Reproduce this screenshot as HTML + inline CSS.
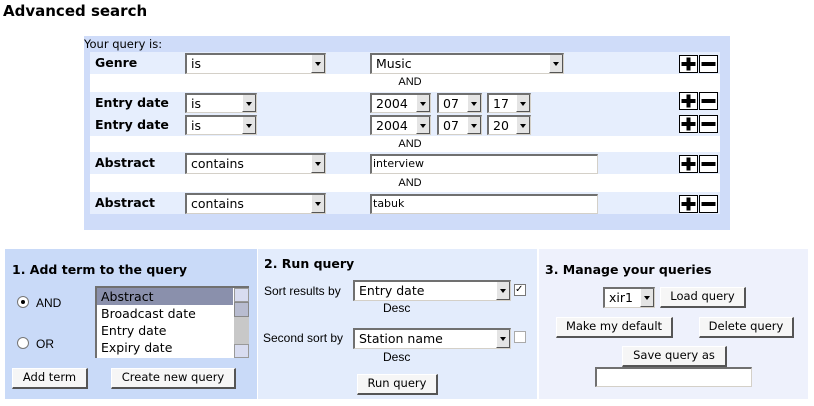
<!DOCTYPE html>
<html><head><style>
body{margin:0;width:814px;height:406px;background:#fff;position:relative;overflow:hidden;font-family:"DejaVu Sans","Liberation Sans",sans-serif;font-size:12px;color:#000}
.a{position:absolute}
.sel{position:absolute;background:#fff;border-top:2px solid #707070;border-left:2px solid #707070;border-right:1px solid #d4d0c8;border-bottom:1px solid #d4d0c8;box-sizing:border-box;font-size:12.5px;padding-left:4px;line-height:17px;white-space:nowrap;overflow:hidden}
.sel .ar{position:absolute;right:0;top:0;bottom:0;width:14px;background:#e4e4e4;border-left:1px solid #fff;border-right:1px solid #555;border-bottom:1px solid #555;box-sizing:border-box}
.sel .ar:after{content:"";position:absolute;left:3px;top:7px;border-left:3.5px solid transparent;border-right:3.5px solid transparent;border-top:4px solid #000}
.inp{position:absolute;background:#fff;border-top:2px solid #707070;border-left:2px solid #707070;border-right:1px solid #d4d0c8;border-bottom:1px solid #d4d0c8;box-sizing:border-box;font-size:11px;line-height:15px;padding-left:1px}
.btn{position:absolute;background:#f6f6f6;border-right:2px solid #555;border-bottom:2px solid #555;border-top:1px solid #fff;border-left:1px solid #fff;box-sizing:border-box;text-align:center;font-size:11.5px;line-height:17px}
.lab{position:absolute;font-weight:bold;font-size:12.5px}
.and{position:absolute;left:370px;width:80px;text-align:center;font-size:11px;font-family:"Liberation Sans",sans-serif}
.row{position:absolute;left:90px;width:630px;background:#e6eefd}
.sm{font-family:"Liberation Sans",sans-serif;font-size:12px}
</style></head><body>
<div class="a" style="left:3px;top:2px;font-size:15px;font-weight:bold">Advanced search</div>

<div class="a" style="left:84px;top:36px;width:646px;height:194px;background:#cfdcf9"></div>
<div class="a" style="left:84px;top:37px;font-size:11.5px">Your query is:</div>
<div class="row" style="top:52px;height:22px"></div>
<div class="row" style="top:74px;height:18px;background:#fff"></div>
<div class="row" style="top:92px;height:44px"></div>
<div class="row" style="top:136px;height:16px;background:#fff"></div>
<div class="row" style="top:152px;height:22px"></div>
<div class="row" style="top:174px;height:18px;background:#fff"></div>
<div class="row" style="top:192px;height:22px"></div>

<div class="lab" style="left:95px;top:55px">Genre</div>
<div class="sel" style="left:185px;top:53px;width:141px;height:21px">is<div class="ar"></div></div>
<div class="sel" style="left:370px;top:53px;width:194px;height:21px">Music<div class="ar"></div></div>
<div class="and" style="top:76px">AND</div>

<div class="lab" style="left:95px;top:95px">Entry date</div>
<div class="sel" style="left:185px;top:93px;width:72px;height:20px">is<div class="ar"></div></div>
<div class="sel" style="left:370px;top:93px;width:61px;height:20px">2004<div class="ar"></div></div>
<div class="sel" style="left:437px;top:93px;width:45px;height:20px">07<div class="ar"></div></div>
<div class="sel" style="left:487px;top:93px;width:44px;height:20px">17<div class="ar"></div></div>
<div class="lab" style="left:95px;top:117px">Entry date</div>
<div class="sel" style="left:185px;top:115px;width:72px;height:20px">is<div class="ar"></div></div>
<div class="sel" style="left:370px;top:115px;width:61px;height:20px">2004<div class="ar"></div></div>
<div class="sel" style="left:437px;top:115px;width:45px;height:20px">07<div class="ar"></div></div>
<div class="sel" style="left:487px;top:115px;width:44px;height:20px">20<div class="ar"></div></div>
<div class="and" style="top:138px">AND</div>

<div class="lab" style="left:95px;top:155px">Abstract</div>
<div class="sel" style="left:185px;top:153px;width:141px;height:21px">contains<div class="ar"></div></div>
<div class="inp" style="left:370px;top:154px;width:228px;height:20px">interview</div>
<div class="and" style="top:177px">AND</div>
<div class="lab" style="left:95px;top:195px">Abstract</div>
<div class="sel" style="left:185px;top:193px;width:141px;height:21px">contains<div class="ar"></div></div>
<div class="inp" style="left:370px;top:194px;width:228px;height:20px">tabuk</div>

<svg class="a" style="left:679px;top:54px" width="40" height="160">
<g stroke="#000" fill="#fff">
<rect x="0.5" y="1.5" width="18" height="17"/><rect x="20.5" y="1.5" width="18" height="17"/>
<rect x="0.5" y="38.5" width="18" height="17"/><rect x="20.5" y="38.5" width="18" height="17"/>
<rect x="0.5" y="61.5" width="18" height="17"/><rect x="20.5" y="61.5" width="18" height="17"/>
<rect x="0.5" y="101.5" width="18" height="17"/><rect x="20.5" y="101.5" width="18" height="17"/>
<rect x="0.5" y="141.5" width="18" height="17"/><rect x="20.5" y="141.5" width="18" height="17"/>
</g>
<g fill="#000">
<g id="p"><rect x="2.5" y="8" width="14" height="4"/><rect x="7.5" y="3.5" width="4" height="13"/><rect x="22.5" y="8" width="14" height="4"/></g>
<use href="#p" y="37"/><use href="#p" y="60"/><use href="#p" y="100"/><use href="#p" y="140"/>
</g></svg>

<div class="a" style="left:5px;top:249px;width:252px;height:150px;background:#c9daf8"></div>
<div class="a" style="left:258px;top:249px;width:279px;height:150px;background:#e3ecfc"></div>
<div class="a" style="left:539px;top:249px;width:269px;height:150px;background:#eef1fc"></div>

<div class="lab" style="left:12px;top:262px">1. Add term to the query</div>
<div class="a" style="left:17px;top:296px;width:10px;height:10px;border-radius:50%;background:#fff;border:1px solid #777"><div style="position:absolute;left:3px;top:3px;width:4px;height:4px;background:#000;border-radius:50%"></div></div>
<div class="a sm" style="left:36px;top:296px">AND</div>
<div class="a" style="left:17px;top:337px;width:10px;height:10px;border-radius:50%;background:#fff;border:1px solid #777"></div>
<div class="a sm" style="left:36px;top:337px">OR</div>
<div class="a" style="left:95px;top:286px;width:154px;height:72px;background:#fff;border-top:2px solid #707070;border-left:2px solid #707070;box-sizing:border-box;font-size:12.5px;line-height:17px">
<div style="background:#8a90ac;color:#000;padding-left:4px;width:132px">Abstract</div>
<div style="padding-left:4px">Broadcast date</div>
<div style="padding-left:4px">Entry date</div>
<div style="padding-left:4px">Expiry date</div>
<div style="position:absolute;right:0;top:0;width:15px;height:70px;background:#c8c8c8"><div style="height:14px;background:#d8dcf0;border:1px solid #999;box-sizing:border-box"></div><div style="height:15px;background:#b8bcd0;border:1px solid #888;box-sizing:border-box"></div><div style="position:absolute;bottom:0;width:15px;height:14px;background:#d8dcf0;border:1px solid #999;box-sizing:border-box"></div></div>
</div>
<div class="btn" style="left:12px;top:368px;width:76px;height:21px">Add term</div>
<div class="btn" style="left:111px;top:368px;width:125px;height:21px">Create new query</div>

<div class="lab" style="left:264px;top:256px">2. Run query</div>
<div class="a sm" style="left:264px;top:284px">Sort results by</div>
<div class="sel" style="left:353px;top:280px;width:158px;height:21px">Entry date<div class="ar"></div></div>
<div class="a" style="left:514px;top:284px;width:10px;height:10px;background:#fff;border:1px solid #777;font-size:10px;line-height:10px">✓</div>
<div class="a sm" style="left:383px;top:301px">Desc</div>
<div class="a sm" style="left:263px;top:331px">Second sort by</div>
<div class="sel" style="left:353px;top:328px;width:158px;height:21px">Station name<div class="ar"></div></div>
<div class="a" style="left:514px;top:331px;width:10px;height:10px;background:#fff;border:1px solid #aaa"></div>
<div class="a sm" style="left:383px;top:350px">Desc</div>
<div class="btn" style="left:357px;top:374px;width:81px;height:21px">Run query</div>

<div class="lab" style="left:545px;top:262px">3. Manage your queries</div>
<div class="sel" style="left:603px;top:287px;width:52px;height:21px">xir1<div class="ar"></div></div>
<div class="btn" style="left:660px;top:287px;width:86px;height:21px">Load query</div>
<div class="btn" style="left:556px;top:317px;width:117px;height:21px">Make my default</div>
<div class="btn" style="left:699px;top:317px;width:95px;height:21px">Delete query</div>
<div class="btn" style="left:622px;top:346px;width:105px;height:21px">Save query as</div>
<div class="inp" style="left:595px;top:367px;width:157px;height:20px"></div>
</body></html>
